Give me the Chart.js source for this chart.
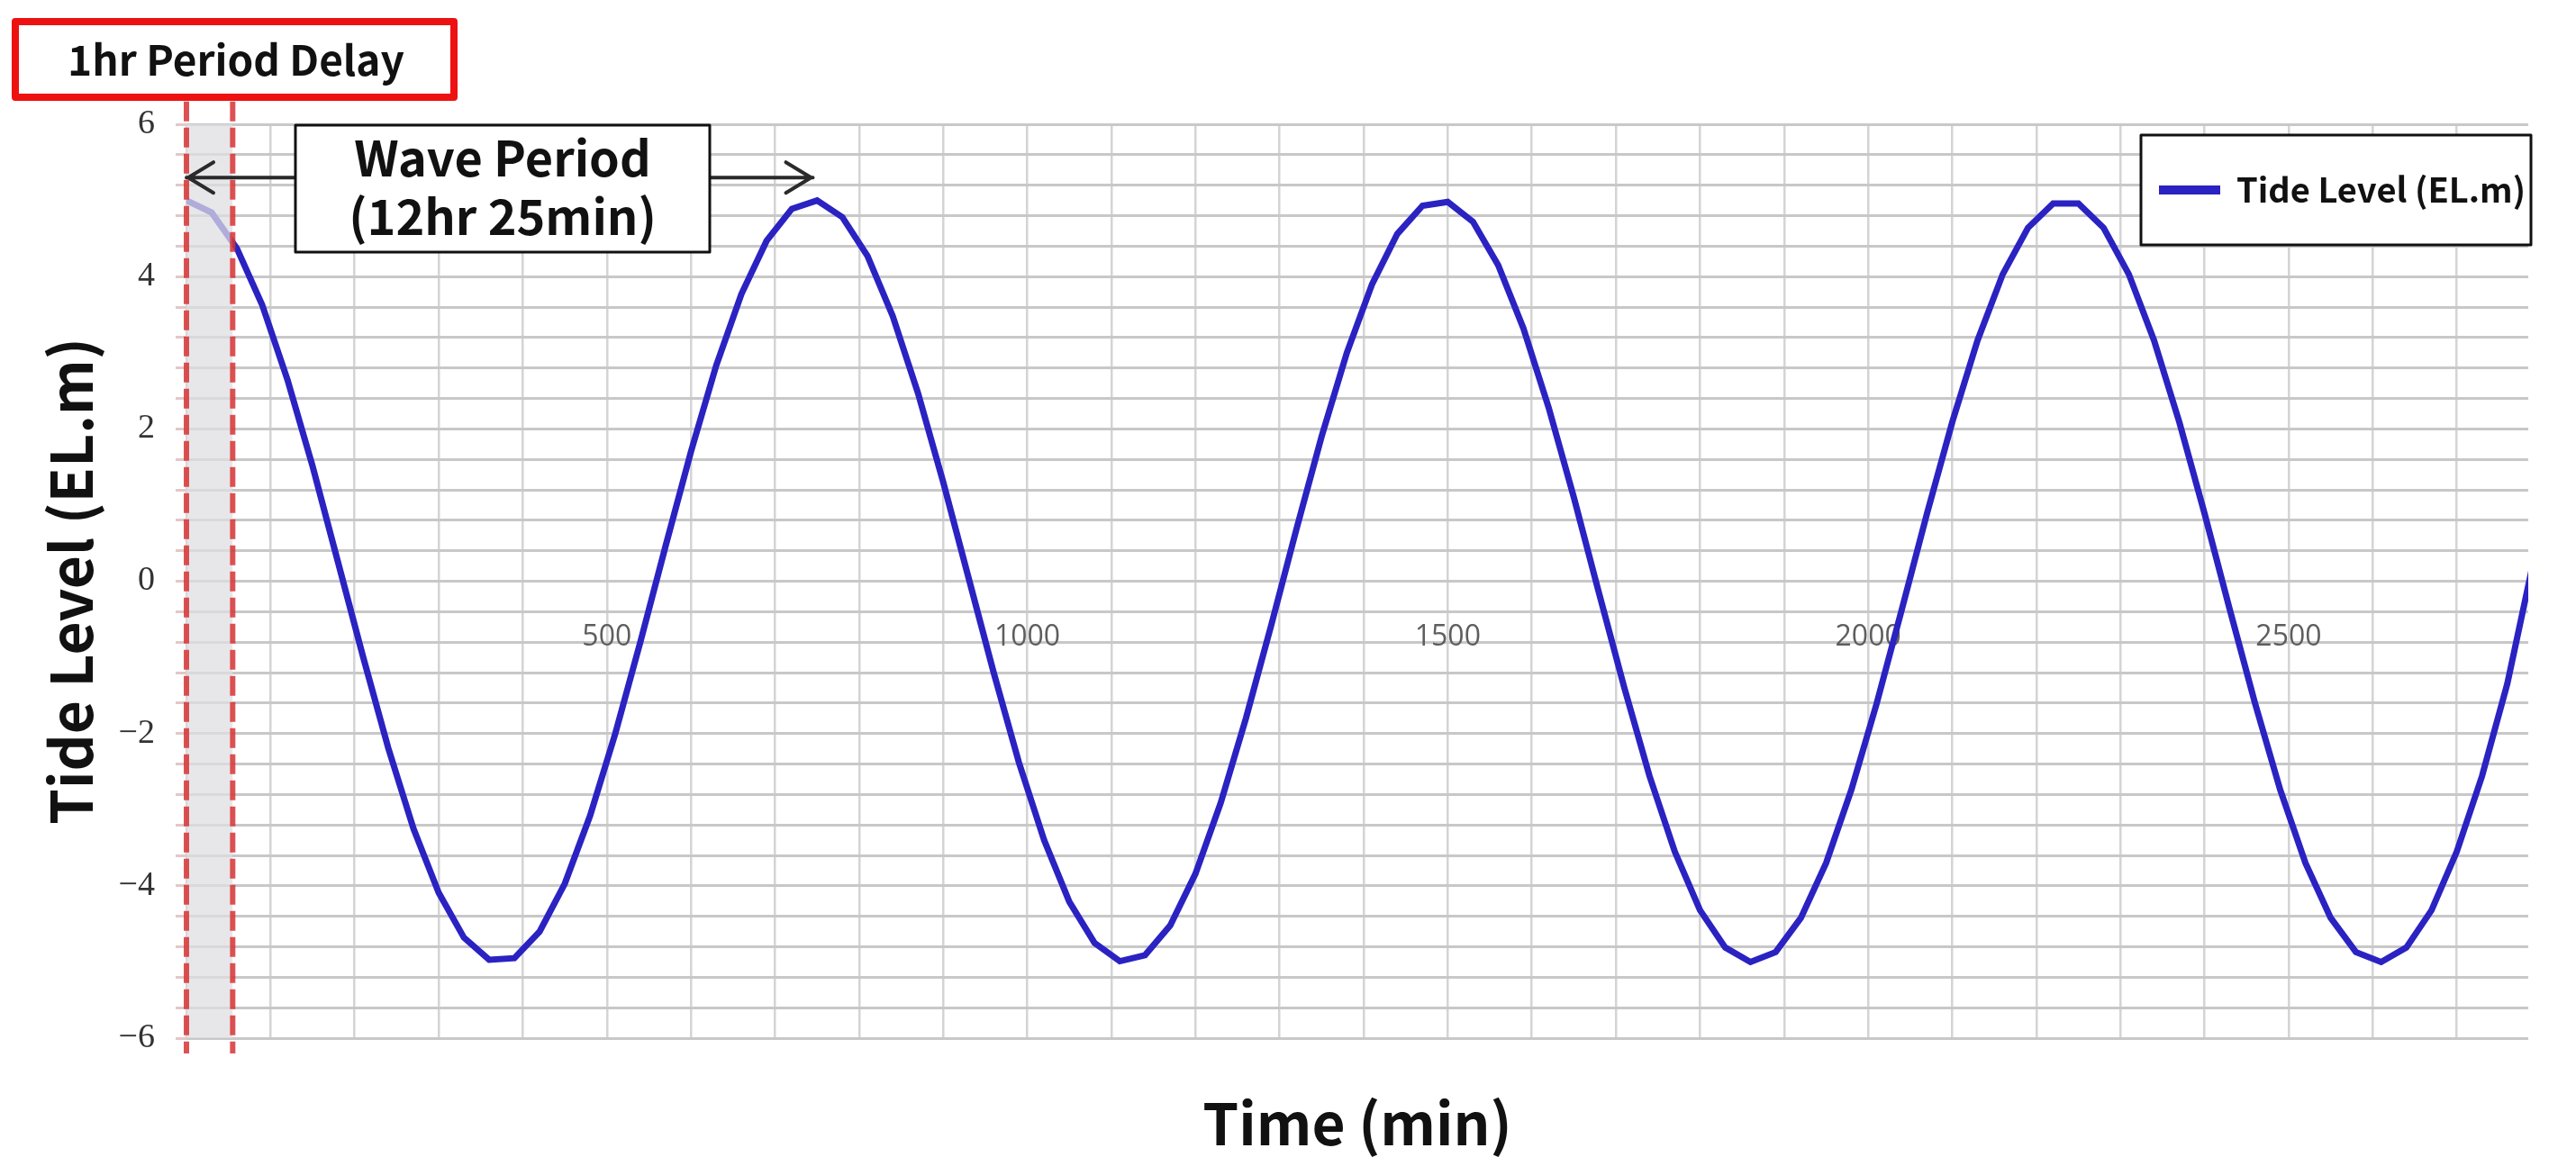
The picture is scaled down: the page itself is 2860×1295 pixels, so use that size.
<!DOCTYPE html>
<html lang="en">
<head>
  <meta charset="UTF-8" />
  <title>Tide Level - 1hr Period Delay</title>
  <script src="https://cdn.jsdelivr.net/npm/chart.js"></script>
  <style>
    * {
      margin: 0;
      padding: 0;
      box-sizing: border-box;
    }

    body {
      background-color: #fff;
      width: 2860px;
      height: 1295px;
      overflow: hidden;
    }

    canvas {
      display: block;
    }
  </style>
</head>
<body>

  <canvas id="tideChart" width="2860" height="1295"></canvas>

  <script>
    // time (min) and tide level (EL.m), every 30 min
    const timeMin = [
      0, 30, 60, 90, 120, 150, 180, 210, 240, 270, 300, 330, 360, 390, 420, 450,
      480, 510, 540, 570, 600, 630, 660, 690, 720, 750, 780, 810, 840, 870, 900, 930,
      960, 990, 1020, 1050, 1080, 1110, 1140, 1170, 1200, 1230, 1260, 1290, 1320, 1350, 1380, 1410,
      1440, 1470, 1500, 1530, 1560, 1590, 1620, 1650, 1680, 1710, 1740, 1770, 1800, 1830, 1860, 1890,
      1920, 1950, 1980, 2010, 2040, 2070, 2100, 2130, 2160, 2190, 2220, 2250, 2280, 2310, 2340, 2370,
      2400, 2430, 2460, 2490, 2520, 2550, 2580, 2610, 2640, 2670, 2700, 2730, 2760, 2790
    ];
    const tideLevel = [
      5.00, 4.84, 4.37, 3.63, 2.65, 1.51, 0.26, -0.99, -2.19, -3.25, -4.09, -4.68, -4.97, -4.95, -4.60, -3.97,
      -3.08, -2.00, -0.79, 0.47, 1.70, 2.83, 3.77, 4.47, 4.89, 5.00, 4.78, 4.27, 3.48, 2.47, 1.30, 0.05,
      -1.20, -2.38, -3.40, -4.21, -4.75, -4.99, -4.91, -4.52, -3.84, -2.91, -1.80, -0.58, 0.68, 1.90, 3.00, 3.90,
      4.56, 4.93, 4.98, 4.72, 4.15, 3.32, 2.28, 1.10, -0.16, -1.40, -2.56, -3.55, -4.32, -4.81, -5.00, -4.87,
      -4.42, -3.70, -2.74, -1.61, -0.37, 0.89, 2.09, 3.16, 4.03, 4.64, 4.96, 4.96, 4.64, 4.03, 3.16, 2.09,
      0.89, -0.37, -1.60, -2.74, -3.70, -4.42, -4.87, -5.00, -4.81, -4.32, -3.55, -2.56, -1.35, 0.20
    ];

    const xLabelTicks = [500, 1000, 1500, 2000, 2500];
    const yLabelTicks = [-6, -4, -2, 0, 2, 4, 6];

    const delayWindow = [0, 55];   // shaded delay band (min)
    const wavePeriod = 745;        // 12hr 25min

    const BLUE = '#2b22c2';
    const SANS = "'Noto Sans CJK KR', 'Noto Sans', sans-serif";

    const tidePoints = timeMin.map((t, i) => ({ x: t, y: tideLevel[i] }));

    // boxes, arrow and legend drawn over the plot
    const annotations = {
      id: 'annotations',
      afterDraw(chart) {
        const ctx = chart.ctx;
        const xs = chart.scales.x;
        const ys = chart.scales.y;
        const area = chart.chartArea;
        ctx.save();

        // double arrow for the wave period
        const ay = ys.getPixelForValue(5.3);
        const ax0 = xs.getPixelForValue(0);
        const ax1 = xs.getPixelForValue(wavePeriod);
        ctx.strokeStyle = '#2a2a2a';
        ctx.lineWidth = 4;
        ctx.lineCap = 'round';
        ctx.lineJoin = 'round';
        ctx.beginPath();
        ctx.moveTo(ax0, ay);
        ctx.lineTo(ax1, ay);
        ctx.moveTo(ax0 + 30, ay - 17);
        ctx.lineTo(ax0 + 2, ay);
        ctx.lineTo(ax0 + 30, ay + 17);
        ctx.moveTo(ax1 - 30, ay - 17);
        ctx.lineTo(ax1 - 2, ay);
        ctx.lineTo(ax1 - 30, ay + 17);
        ctx.stroke();

        // wave period box
        const bx = area.left + 121, by = area.top + 1, bw = 460, bh = 141;
        ctx.fillStyle = '#fff';
        ctx.fillRect(bx, by, bw, bh);
        ctx.strokeStyle = '#111';
        ctx.lineWidth = 3;
        ctx.lineCap = 'butt';
        ctx.strokeRect(bx, by, bw, bh);
        ctx.fillStyle = '#111';
        ctx.font = 'bold 54px ' + SANS;
        ctx.textAlign = 'center';
        ctx.textBaseline = 'middle';
        ctx.fillText('Wave Period', bx + bw / 2, by + 36);
        ctx.fillText('(12hr 25min)', bx + bw / 2, by + 101);

        // legend
        const ds = chart.data.datasets[0];
        const lw = 433, lh = 122;
        const lx = area.right + 3 - lw, ly = area.top + 12;
        ctx.fillStyle = '#fff';
        ctx.fillRect(lx, ly, lw, lh);
        ctx.strokeStyle = '#111';
        ctx.lineWidth = 3;
        ctx.strokeRect(lx, ly, lw, lh);
        ctx.strokeStyle = ds.borderColor;
        ctx.lineWidth = 10;
        ctx.beginPath();
        ctx.moveTo(lx + 20, ly + lh / 2);
        ctx.lineTo(lx + 88, ly + lh / 2);
        ctx.stroke();
        ctx.fillStyle = '#111';
        ctx.font = 'bold 38px ' + SANS;
        ctx.textAlign = 'left';
        ctx.fillText(ds.label, lx + 106, ly + lh / 2);

        // red "1hr Period Delay" tag above the plot
        ctx.fillStyle = '#fff';
        ctx.fillRect(17, 24, 487, 84);
        ctx.strokeStyle = '#ee1111';
        ctx.lineWidth = 8;
        ctx.strokeRect(17, 24, 487, 84);
        ctx.fillStyle = '#111';
        ctx.font = 'bold 46px ' + SANS;
        ctx.textAlign = 'center';
        ctx.fillText('1hr Period Delay', 262, 67);

        ctx.restore();
      }
    };

    new Chart(document.getElementById('tideChart').getContext('2d'), {
      type: 'line',
      data: {
        datasets: [
          {
            label: 'Tide Level (EL.m)',
            data: tidePoints,
            borderColor: BLUE,
            backgroundColor: BLUE,
            borderWidth: 7,
            pointRadius: 0,
            tension: 0,
            order: 3
          },
          {
            label: 'delay band',
            data: [{ x: delayWindow[0], y: 6 }, { x: delayWindow[1], y: 6 }],
            fill: { value: -6 },
            backgroundColor: 'rgba(222, 222, 226, 0.74)',
            borderColor: 'transparent',
            borderWidth: 0,
            pointRadius: 0,
            order: 2
          },
          {
            label: 'delay start',
            data: [{ x: delayWindow[0], y: 6.3 }, { x: delayWindow[0], y: -6.2 }],
            borderColor: 'rgba(214, 52, 52, 0.85)',
            borderWidth: 6,
            borderDash: [22, 7],
            pointRadius: 0,
            clip: false,
            order: 1
          },
          {
            label: 'delay end',
            data: [{ x: delayWindow[1], y: 6.3 }, { x: delayWindow[1], y: -6.2 }],
            borderColor: 'rgba(214, 52, 52, 0.85)',
            borderWidth: 6,
            borderDash: [22, 7],
            pointRadius: 0,
            clip: false,
            order: 1
          }
        ]
      },
      options: {
        responsive: false,
        devicePixelRatio: 1,
        animation: false,
        events: [],
        layout: {
          padding: { left: 0, top: 138, right: 53, bottom: 0 }
        },
        plugins: {
          legend: { display: false },
          tooltip: { enabled: false }
        },
        scales: {
          x: {
            type: 'linear',
            position: 'bottom',
            min: 0,
            // 2785 rather than 2790 so chart.js keeps the 100-min steps exact
            max: 2785,
            grid: { color: '#d4d4d4', lineWidth: 2.5, drawTicks: false },
            border: { display: false },
            ticks: {
              stepSize: 100,
              includeBounds: false,
              autoSkip: false,
              maxRotation: 0,
              // labels sit just under the zero line, inside the plot
              mirror: true,
              padding: 426,
              color: '#5e5e5e',
              font: { family: "'Open Sans', sans-serif", size: 32 },
              callback: (v) => xLabelTicks.includes(v) ? String(v) : ''
            },
            title: {
              display: true,
              text: 'Time (min)',
              color: '#111',
              font: { family: SANS, size: 64, weight: 'bold' },
              padding: { top: 0, bottom: 9 }
            },
            afterFit(scale) {
              scale.height = 142;
              scale.paddingLeft = 0;
              scale.paddingRight = 0;
            }
          },
          y: {
            min: -6,
            max: 6,
            grid: { color: '#c8c8c8', lineWidth: 3, tickLength: 12, tickColor: '#e2c8c8' },
            border: { display: false },
            ticks: {
              stepSize: 0.4,
              autoSkip: false,
              padding: 23,
              color: '#333',
              font: { family: "'Liberation Serif', serif", size: 38 },
              callback: (v) => {
                const r = Math.round(v);
                if (Math.abs(v - r) > 1e-6 || !yLabelTicks.includes(r)) return '';
                return r < 0 ? '\u2212' + (-r) : String(r);
              }
            },
            title: {
              display: true,
              text: 'Tide Level (EL.m)',
              color: '#111',
              font: { family: SANS, size: 64, weight: 'bold' },
              padding: { top: 40, bottom: 0 }
            },
            afterFit(scale) { scale.width = 207; }
          }
        }
      },
      plugins: [annotations]
    });
  </script>
</body>
</html>
